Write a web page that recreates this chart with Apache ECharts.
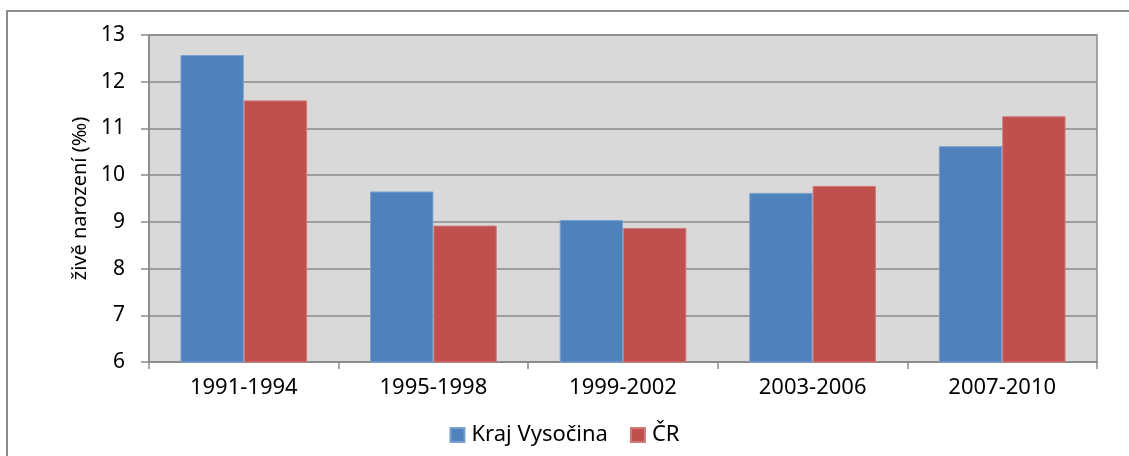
<!DOCTYPE html>
<html>
<head>
<meta charset="utf-8">
<script src="https://cdn.jsdelivr.net/npm/echarts@6/dist/echarts.min.js"></script>
<style>
  html, body { margin: 0; padding: 0; background: #fff; }
  #chart { width: 1129px; height: 456px; }
</style>
</head>
<body>
<div id="chart"></div>
<script>
// období
const periods = ["1991-1994", "1995-1998", "1999-2002", "2003-2006", "2007-2010"];
// živě narození na 1000 obyvatel
const vysocina = [12.57, 9.65, 9.04, 9.62, 10.62];
const cr = [11.6, 8.92, 8.87, 9.77, 11.26];

const FONT = "Noto Sans";
const gridGray = "#8a8a8a";

const chart = echarts.init(document.getElementById("chart"));

const option = {
  animation: false,
  textStyle: { fontFamily: FONT, color: "#000" },
  graphic: [
    {
      type: "rect",
      shape: { x: 7, y: 11, width: 1200, height: 500 },
      style: { fill: "none", stroke: "#8c8c8c", lineWidth: 2 }
    }
  ],
  grid: {
    left: 149,
    right: 32,
    top: 35,
    bottom: 94,
    show: true,
    backgroundColor: "#d9d9d9",
    borderColor: gridGray,
    borderWidth: 1.5
  },
  legend: {
    data: ["Kraj Vysočina", "ČR"],
    top: 419,
    left: "center",
    icon: "rect",
    itemWidth: 14,
    itemHeight: 14,
    itemGap: 22,
    textStyle: { fontFamily: FONT, fontSize: 22, color: "#000", padding: [0, 0, 0, 2] }
  },
  xAxis: {
    type: "category",
    data: periods,
    axisLine: { lineStyle: { color: gridGray, width: 1.5 } },
    axisTick: { show: true, length: 7, alignWithLabel: false, lineStyle: { color: gridGray, width: 1.5 } },
    axisLabel: { fontFamily: FONT, fontSize: 22, color: "#000", margin: 15 }
  },
  yAxis: {
    type: "value",
    min: 6,
    max: 13,
    interval: 1,
    name: "živě narození (‰)",
    nameLocation: "middle",
    nameGap: 58,
    nameTextStyle: { fontFamily: FONT, fontSize: 20, color: "#000" },
    axisLine: { show: true, lineStyle: { color: gridGray, width: 1.5 } },
    axisTick: { show: true, length: 8, lineStyle: { color: gridGray, width: 1.5 } },
    axisLabel: { fontFamily: FONT, fontSize: 21, color: "#000", margin: 24 },
    splitLine: { lineStyle: { color: gridGray, width: 1.5 } }
  },
  series: [
    {
      name: "Kraj Vysočina",
      type: "bar",
      data: vysocina,
      barWidth: "33.4%",
      barGap: "0%",
      itemStyle: { color: "#4f81bd", borderColor: "#7aa0d0", borderWidth: 1 }
    },
    {
      name: "ČR",
      type: "bar",
      data: cr,
      barWidth: "33.4%",
      itemStyle: { color: "#c0504d", borderColor: "#d07a78", borderWidth: 1 }
    }
  ]
};

chart.setOption(option);
</script>
</body>
</html>
